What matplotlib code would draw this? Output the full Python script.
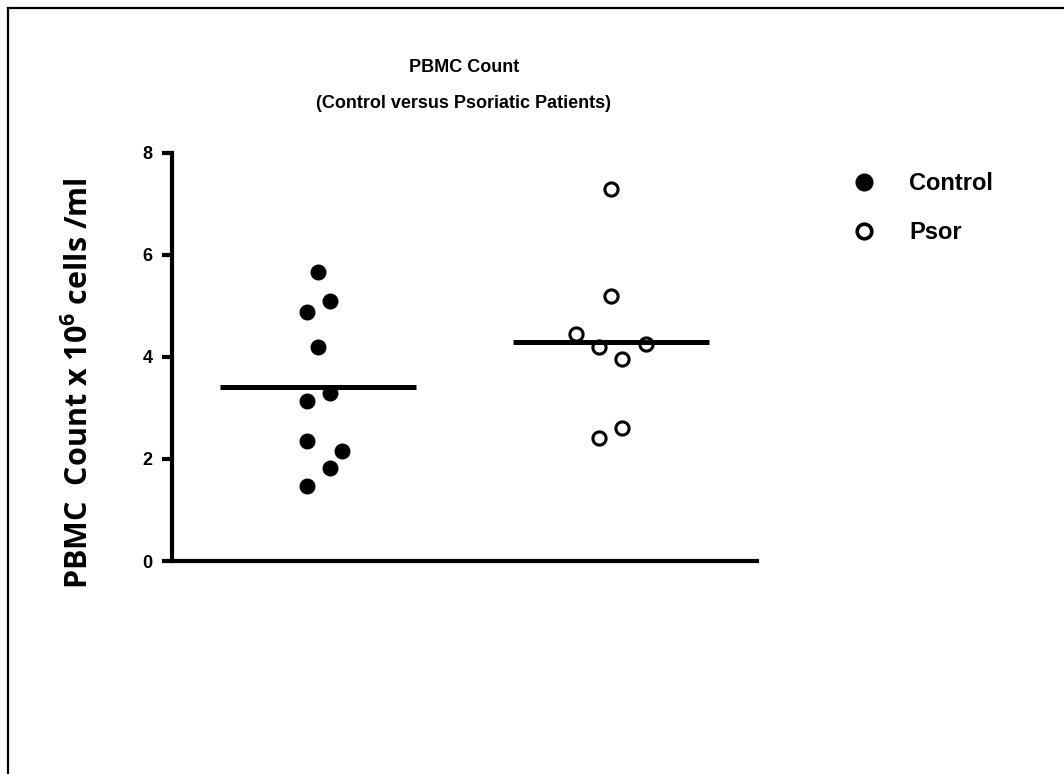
import numpy as np
import matplotlib
matplotlib.use("Agg")
import matplotlib.pyplot as plt
from matplotlib.lines import Line2D

# data
groups = ["Control", "Psor"]
control = [5.67, 5.10, 4.89, 4.20, 3.29, 3.14, 2.36, 2.16, 1.82, 1.47]
psor = [7.29, 5.20, 4.46, 4.25, 4.19, 3.96, 2.60, 2.41]
yticks = [0, 2, 4, 6, 8]

# horizontal scatter of the dots (layout only)
control_dx = [0.0, 0.04, -0.04, 0.0, 0.04, -0.04, -0.04, 0.08, 0.04, -0.04]
psor_dx = [0.0, 0.0, -0.12, 0.12, -0.04, 0.04, 0.04, -0.04]

plt.rcParams['font.family'] = ['Liberation Sans', 'DejaVu Sans']
plt.rcParams['font.weight'] = 'bold'
plt.rcParams['mathtext.fontset'] = 'custom'
plt.rcParams['mathtext.rm'] = 'Open Sans:bold'
plt.rcParams['mathtext.bf'] = 'Open Sans:bold'

W, H = 1064, 774
fig = plt.figure(figsize=(W / 100, H / 100), dpi=100)
ax = fig.add_axes([172 / W, 1 - 561 / H, (757 - 172) / W, (561 - 153) / H])

xs = [1, 2]
ax.plot(np.array(control_dx) + xs[0], control, 'o', ms=10.5, mfc='black', mec='black',
        ls='none', label=groups[0], zorder=3)
ax.plot(np.array(psor_dx) + xs[1], psor, 'o', ms=9.5, mfc='none', mec='black', mew=2.2,
        ls='none', label=groups[1], zorder=3)

# mean lines
for x, vals in zip(xs, [control, psor]):
    ax.hlines(np.mean(vals), x - 0.335, x + 0.335, color='black', lw=3.6, zorder=4)

ax.set_xlim(0.5, 2.5)
ax.set_ylim(0, 8)
ax.set_yticks(yticks)
ax.set_yticklabels([str(t) for t in yticks], fontsize=13, fontweight='bold')
ax.set_xticks([])
for s in ['top', 'right']:
    ax.spines[s].set_visible(False)
for s in ['left', 'bottom']:
    ax.spines[s].set_linewidth(3)
    ax.spines[s].set_capstyle('projecting')
ax.tick_params(axis='y', direction='out', length=7.2, width=3, pad=7)

fig.text(79 / W, 1 - 383 / H, r"PBMC  Count x 10$^{6}$ cells /ml", rotation=90,
         ha='center', va='center', fontsize=22, fontweight='bold', family='Open Sans')

fig.text(464 / W, 1 - 68 / H, "PBMC Count", ha='center', va='center',
         fontsize=13, fontweight='bold')
fig.text(464 / W, 1 - 103 / H, "(Control versus Psoriatic Patients)", ha='center',
         va='center', fontsize=13, fontweight='bold')

handles = [Line2D([], [], marker='o', ls='none', ms=12, mfc='black', mec='black'),
           Line2D([], [], marker='o', ls='none', ms=10.5, mfc='none', mec='black', mew=2.6)]
fig.legend(handles, groups, loc='upper left', bbox_to_anchor=(850 / W, 1 - 172 / H),
           frameon=False, fontsize=17, handletextpad=1.3, labelspacing=1.1,
           handlelength=1.2, borderpad=0, borderaxespad=0)

# frame around the figure (only top and left visible)
fig.add_artist(Line2D([8 / W, 1], [1 - 8 / H, 1 - 8 / H], color='black', lw=1.6))
fig.add_artist(Line2D([8 / W, 8 / W], [0, 1 - 8 / H], color='black', lw=1.6))

fig.savefig("out.png", dpi=100)
